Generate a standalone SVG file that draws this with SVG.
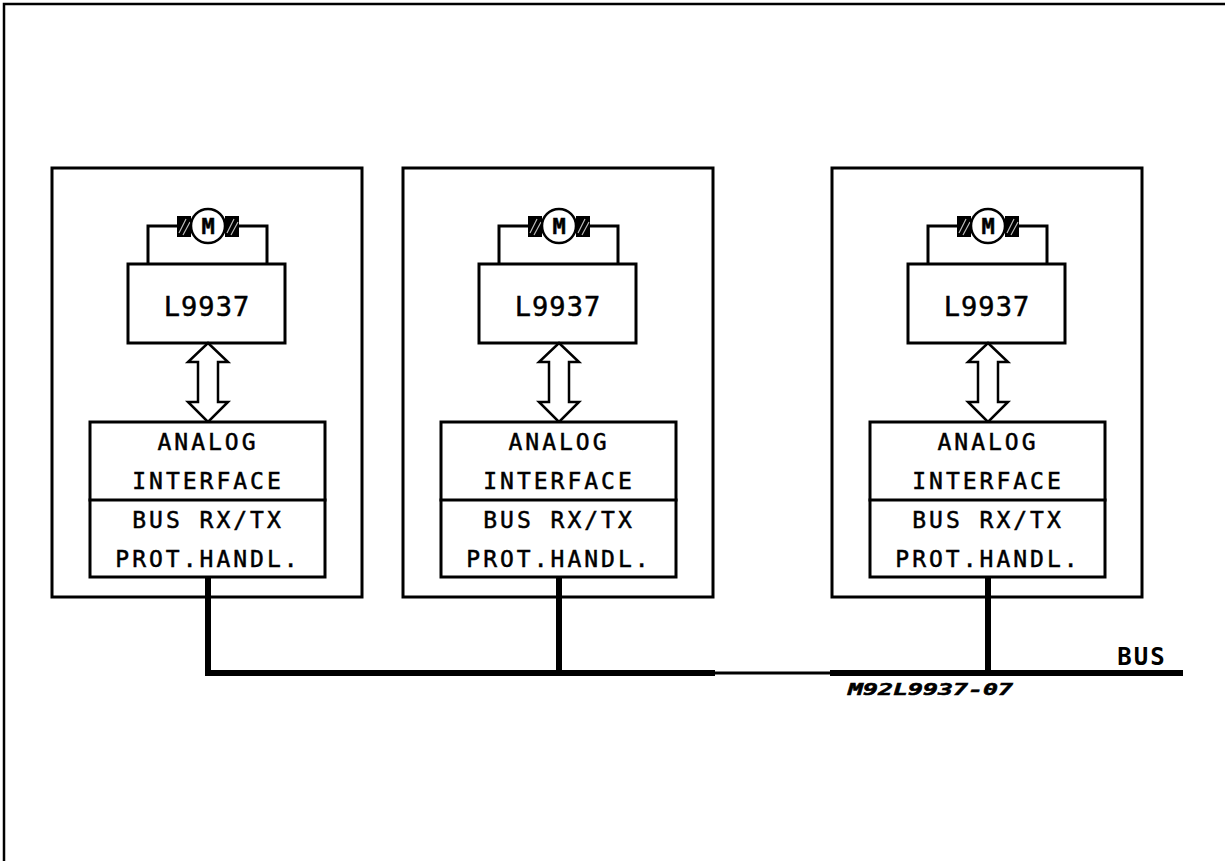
<svg xmlns="http://www.w3.org/2000/svg" width="1225" height="861" viewBox="0 0 1225 861">
<style>
.ln{fill:none;stroke:#000;stroke-width:3;stroke-linecap:square}
.box{fill:#fff;stroke:#000;stroke-width:3}
.hat{fill:#000}
.hl{stroke:#bbb;stroke-width:1.2}
.t{font-family:"DejaVu Sans Mono","Liberation Mono",monospace;fill:#000;text-anchor:middle;stroke:#000;stroke-width:0.5}
.bt{font-size:23px;letter-spacing:3px}
.lt{font-size:27px;letter-spacing:1px}
.bus{stroke:#000;stroke-width:6;fill:none}
</style>
<defs>
<g id="panel">
<rect class="box" x="52" y="168" width="310" height="429"/>
<path class="ln" d="M148,264 V226 H180 M236,226 H267 V264"/>
<rect class="hat" x="177" y="216" width="14" height="21"/>
<rect class="hat" x="225" y="216" width="14" height="21"/>
<path class="hl" d="M179,233 L186,219 M183,235 L190,222 M227,233 L234,219 M231,235 L238,222"/>
<circle cx="208" cy="226" r="17" fill="#fff" stroke="#000" stroke-width="2.5"/>
<text class="t" x="208" y="234" font-size="22" font-weight="bold">M</text>
<rect class="box" x="128" y="264" width="157" height="79"/>
<text class="t lt" x="207" y="316">L9937</text>
<polygon points="208,343 228,362 218,362 218,402 228,402 208,422 188,402 198,402 198,362 188,362" fill="#fff" stroke="#000" stroke-width="2.5" stroke-linejoin="miter"/>
<rect class="box" x="90" y="422" width="235" height="155"/>
<line class="ln" x1="90" y1="500" x2="325" y2="500"/>
<text class="t bt" x="208" y="450">ANALOG</text>
<text class="t bt" x="208" y="489">INTERFACE</text>
<text class="t bt" x="208" y="528">BUS RX/TX</text>
<text class="t bt" x="208" y="567">PROT.HANDL.</text>
</g>
</defs>
<g id="frame">
<path d="M4,861 V4 H1225" fill="none" stroke="#000" stroke-width="2.5"/>
</g>
<g id="node1"><use href="#panel"/></g>
<g id="node2"><use href="#panel" transform="translate(351,0)"/></g>
<g id="node3"><use href="#panel" transform="translate(780,0)"/></g>
<g id="connectors">
<line class="bus" x1="208" y1="577" x2="208" y2="673"/>
<line class="bus" x1="559" y1="577" x2="559" y2="673"/>
<line class="bus" x1="988" y1="577" x2="988" y2="673"/>
<line class="bus" x1="205" y1="673" x2="715" y2="673"/>
<line x1="715" y1="673" x2="830" y2="673" stroke="#000" stroke-width="3"/>
<line class="bus" x1="830" y1="673" x2="1183" y2="673"/>
</g>
<g id="labels">
<text x="1142" y="665" font-family="DejaVu Sans Mono,monospace" font-weight="bold" font-size="24" text-anchor="middle" letter-spacing="2">BUS</text>
<text x="848" y="695" font-family="DejaVu Sans Mono,monospace" font-weight="bold" font-style="italic" font-size="15" textLength="165" lengthAdjust="spacingAndGlyphs" stroke="#000" stroke-width="0.5">M92L9937-07</text>
</g>
</svg>
